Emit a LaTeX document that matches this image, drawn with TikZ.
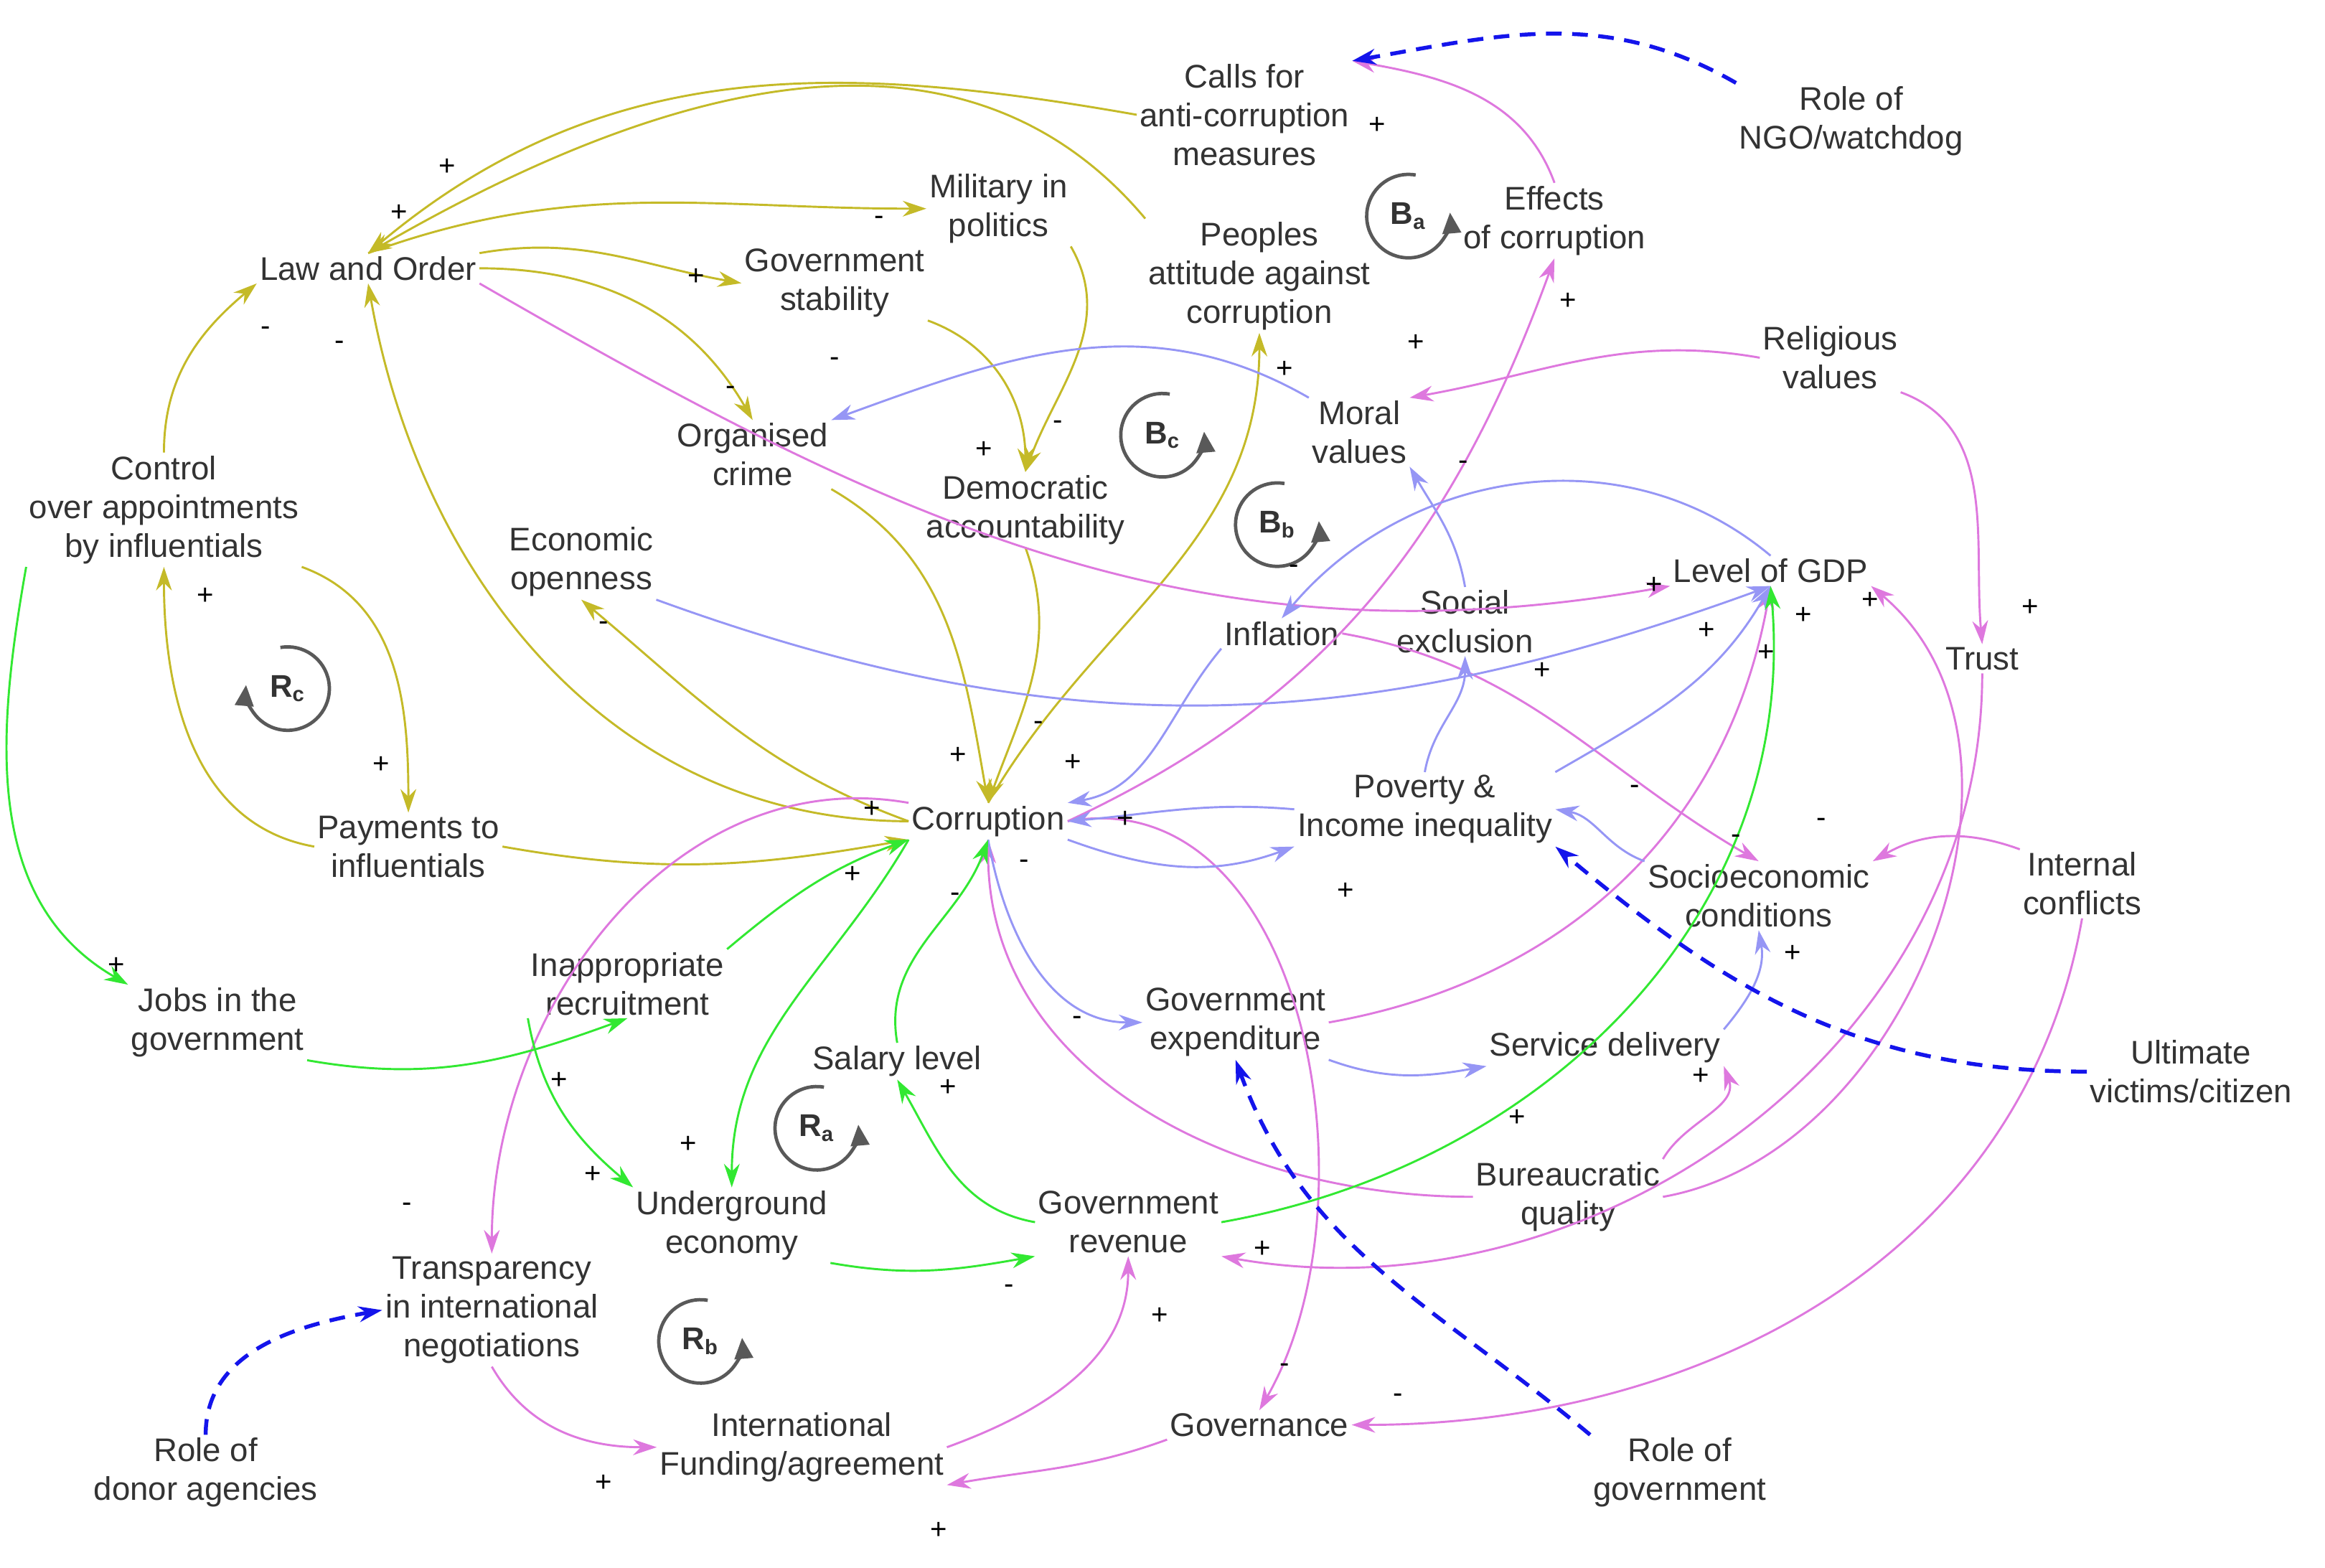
\documentclass[tikz,border=0pt]{standalone}
\usepackage{fontspec}
\setmainfont{Liberation Sans}
\usetikzlibrary{arrows.meta}
\definecolor{olv}{RGB}{196,186,40}
\definecolor{pnk}{RGB}{222,120,222}
\definecolor{lbl}{RGB}{150,150,245}
\definecolor{grn}{RGB}{50,232,50}
\definecolor{dbl}{RGB}{20,20,235}
\tikzset{
  var/.style={align=center,inner sep=1pt,font=\fontsize{12.5}{14.8}\selectfont,text=black!80},
  sgn/.style={inner sep=0pt,font=\fontsize{11}{12}\selectfont},
  lnk/.style={-{Stealth[length=9pt,width=6pt]},line width=0.8pt},
  ye/.style={lnk,olv},
  pk/.style={lnk,pnk},
  bl/.style={lnk,lbl},
  gr/.style={lnk,grn},
  db/.style={lnk,dbl,dashed,line width=1.5pt,dash pattern=on 6pt off 4pt},
  loopc/.style={black!65,line width=1.3pt,-{Triangle[length=8pt,width=7pt]}}
}
\newcommand{\loopmark}[3]{% name, position, label
  \node[var,font=\fontsize{12}{12}\selectfont\bfseries] (#1) at (#2) {#3};
  \draw[loopc] (#1.center) ++(-80:28) arc (-80:-365:28);
}
\newcommand{\loopmarkl}[3]{%
  \node[var,font=\fontsize{12}{12}\selectfont\bfseries] (#1) at (#2) {#3};
  \draw[loopc] (#1.center) ++(-100:28) arc (-100:185:28);
}
\begin{document}
\begin{tikzpicture}[x=0.02cm,y=-0.02cm]
\useasboundingbox (0,0) rectangle (1560,1052);
% variables
\node[var] (calls) at (835,77) {Calls for\\anti-corruption\\measures};
\node[var] (ngo) at (1242,81) {Role of\\NGO/watchdog};
\node[var] (effects) at (1043,148) {Effects\\of corruption};
\node[var] (military) at (670,140) {Military in\\politics};
\node[var] (peoples) at (845,185) {Peoples\\attitude against\\corruption};
\node[var] (law) at (247,180) {Law and Order};
\node[var] (govstab) at (560,190) {Government\\stability};
\node[var] (religious) at (1228,240) {Religious\\values};
\node[var] (moral) at (912,290) {Moral\\values};
\node[var] (orgcrime) at (505,305) {Organised\\crime};
\node[var] (democ) at (688,342) {Democratic\\accountability};
\node[var] (control) at (110,342) {Control\\over appointments\\by influentials};
\node[var] (econ) at (390,377) {Economic\\openness};
\node[var] (gdp) at (1188,383) {Level of GDP};
\node[var] (social) at (983,417) {Social\\exclusion};
\node[var] (inflation) at (860,425) {Inflation};
\node[var] (trust) at (1330,442) {Trust};
\node[var] (payments) at (274,568) {Payments to\\influentials};
\node[var] (corruption) at (663,551) {Corruption};
\node[var] (poverty) at (956,543) {Poverty \&\\Income inequality};
\node[var] (socio) at (1180,601) {Socioeconomic\\conditions};
\node[var] (internal) at (1397,593) {Internal\\conflicts};
\node[var] (jobs) at (146,686) {Jobs in the\\government};
\node[var] (inapp) at (421,660) {Inappropriate\\recruitment};
\node[var] (govexp) at (829,686) {Government\\expenditure};
\node[var] (salary) at (602,712) {Salary level};
\node[var] (service) at (1077,703) {Service delivery};
\node[var] (ultimate) at (1470,719) {Ultimate\\victims/citizen};
\node[var] (bureau) at (1052,803) {Bureaucratic\\quality};
\node[var] (underground) at (491,822) {Underground\\economy};
\node[var] (govrev) at (757,820) {Government\\revenue};
\node[var] (transp) at (330,879) {Transparency\\in international\\negotiations};
\node[var] (intl) at (538,971) {International\\Funding/agreement};
\node[var] (governance) at (845,956) {Governance};
\node[var] (donor) at (138,988) {Role of\\donor agencies};
\node[var] (rolegov) at (1127,988) {Role of\\government};
% loops
\loopmark{ba}{945,145}{B\textsubscript{a}}
\loopmark{bc}{780,292}{B\textsubscript{c}}
\loopmark{bb}{857,352}{B\textsubscript{b}}
\loopmarkl{rc}{193,462}{R\textsubscript{c}}
\loopmark{ra}{548,757}{R\textsubscript{a}}
\loopmark{rb}{470,900}{R\textsubscript{b}}
% olive links
\draw[ye] (calls.west) to[out=170,in=40] (law.north);
\draw[ye] (peoples.north west) to[out=130,in=30] (law.north);
\draw[ye] (law.north) to[out=20,in=180] (military.west);
\draw[ye] (law.north east) to[out=10,in=170] (govstab.west);
\draw[ye] (law.east) to[out=0,in=120] (orgcrime.north);
\draw[ye] (govstab.south east) to[out=-20,in=90] (democ.north);
\draw[ye] (military.south east) to[out=-60,in=70] (democ.north);
\draw[ye] (orgcrime.south east) to[out=-30,in=100] (corruption.north);
\draw[ye] (democ.south) to[out=-70,in=70] (corruption.north);
\draw[ye] (corruption.north) to[out=60,in=-90] (peoples.south);
\draw[ye] (corruption.west) to[out=160,in=-40] (econ.south);
\draw[ye] (corruption.west) to[out=180,in=-80] (law.south);
\draw[ye] (control.north) to[out=90,in=220] (law.south west);
\draw[ye] (control.south east) to[out=-20,in=90] (payments.north);
\draw[ye] (payments.west) to[out=170,in=-90] (control.south);
\draw[ye] (payments.east) to[out=-10,in=190] (corruption.south west);
% pink links
\draw[pk] (effects.north) to[out=110,in=-10] (calls.north east);
\draw[pk] (corruption.east) to[out=25,in=-110] (effects.south);
\draw[pk] (religious.west) to[out=170,in=10] (moral.north east);
\draw[pk] (religious.south east) to[out=-20,in=95] (trust.north);
\draw[pk] (law.south east) to[out=-30,in=190] (gdp.south west);
\draw[pk] (trust.south) to[out=-90,in=-10] (govrev.south east);
\draw[pk] (internal.south) to[out=-100,in=0] (governance.east);
\draw[pk] (bureau.east) to[out=10,in=-40] (gdp.south east);
\draw[pk] (inflation.east) to[out=-10,in=150] (socio.north);
\draw[pk] (internal.north west) to[out=160,in=30] (socio.north east);
\draw[pk] (govexp.east) to[out=10,in=-100] (gdp.south);
\draw[pk] (corruption.north west) to[out=170,in=90] (transp.north);
\draw[pk] (transp.south) to[out=-60,in=180] (intl.west);
\draw[pk] (intl.east) to[out=20,in=-90] (govrev.south);
\draw[pk] (governance.south west) to[out=-160,in=10] (intl.south east);
\draw[pk] (corruption.east) to[out=10,in=60] (governance.north);
\draw[pk] (bureau.west) to[out=180,in=-90] (corruption.south);
\draw[pk] (bureau.north east) to[out=60,in=-70] (service.south east);
% light blue links
\draw[bl] (moral.north west) to[out=150,in=20] (orgcrime.north east);
\draw[bl] (social.north) to[out=100,in=-60] (moral.south east);
\draw[bl] (gdp.north) to[out=140,in=50] (inflation.north);
\draw[bl] (econ.south east) to[out=-20,in=200] (gdp.south);
\draw[bl] (inflation.south west) to[out=-130,in=10] (corruption.north east);
\draw[bl] (poverty.west) to[out=175,in=5] (corruption.east);
\draw[bl] (corruption.south east) to[out=-20,in=200] (poverty.south west);
\draw[bl] (poverty.north) to[out=80,in=-90] (social.south);
\draw[bl] (socio.north west) to[out=160,in=-10] (poverty.east);
\draw[bl] (poverty.north east) to[out=30,in=-120] (gdp.south);
\draw[bl] (corruption.south) to[out=-80,in=180] (govexp.west);
\draw[bl] (govexp.south east) to[out=-20,in=190] (service.south west);
\draw[bl] (service.north east) to[out=50,in=-80] (socio.south);
% green links
\draw[gr] (control.south west) to[out=-100,in=150] (jobs.north west);
\draw[gr] (jobs.south east) to[out=-10,in=200] (inapp.south);
\draw[gr] (inapp.north east) to[out=40,in=200] (corruption.south west);
\draw[gr] (inapp.south west) to[out=-80,in=140] (underground.north west);
\draw[gr] (corruption.south west) to[out=-120,in=90] (underground.north);
\draw[gr] (salary.north) to[out=100,in=-110] (corruption.south);
\draw[gr] (govrev.west) to[out=170,in=-60] (salary.south);
\draw[gr] (underground.south east) to[out=-10,in=190] (govrev.south west);
\draw[gr] (govrev.east) to[out=10,in=-85] (gdp.south);
% dashed external links
\draw[db] (ngo.north west) to[out=150,in=10] (calls.north east);
\draw[db] (ultimate.west) to[out=180,in=-40] (poverty.south east);
\draw[db] (donor.north) to[out=90,in=190] (transp.west);
\draw[db] (rolegov.north west) to[out=140,in=-70] (govexp.south);
% signs
\node[sgn] (s1) at (300,112) {+};
\node[sgn] (s2) at (268,143) {+};
\node[sgn] (s3) at (590,148) {-};
\node[sgn] (s4) at (467,186) {+};
\node[sgn] (s5) at (490,262) {-};
\node[sgn] (s6) at (560,243) {-};
\node[sgn] (s7) at (660,302) {+};
\node[sgn] (s8) at (710,285) {-};
\node[sgn] (s9) at (643,507) {+};
\node[sgn] (s10) at (697,487) {-};
\node[sgn] (s11) at (720,512) {+};
\node[sgn] (s12) at (862,248) {+};
\node[sgn] (s13) at (405,420) {-};
\node[sgn] (s14) at (228,232) {-};
\node[sgn] (s15) at (178,222) {-};
\node[sgn] (s16) at (256,513) {+};
\node[sgn] (s17) at (138,400) {+};
\node[sgn] (s18) at (585,543) {+};
\node[sgn] (s19) at (924,84) {+};
\node[sgn] (s20) at (1052,202) {+};
\node[sgn] (s21) at (950,230) {+};
\node[sgn] (s22) at (1362,408) {+};
\node[sgn] (s23) at (1110,393) {+};
\node[sgn] (s24) at (847,838) {+};
\node[sgn] (s25) at (938,938) {-};
\node[sgn] (s26) at (1255,403) {+};
\node[sgn] (s27) at (1165,563) {-};
\node[sgn] (s28) at (1222,552) {-};
\node[sgn] (s29) at (1185,438) {+};
\node[sgn] (s30) at (273,810) {-};
\node[sgn] (s31) at (405,995) {+};
\node[sgn] (s32) at (778,883) {+};
\node[sgn] (s33) at (630,1027) {+};
\node[sgn] (s34) at (862,918) {-};
\node[sgn] (s35) at (755,550) {+};
\node[sgn] (s36) at (723,685) {-};
\node[sgn] (s37) at (1141,722) {+};
\node[sgn] (s38) at (982,312) {-};
\node[sgn] (s39) at (868,382) {-};
\node[sgn] (s40) at (1145,423) {+};
\node[sgn] (s41) at (1210,413) {+};
\node[sgn] (s42) at (687,580) {-};
\node[sgn] (s43) at (903,598) {+};
\node[sgn] (s44) at (1035,450) {+};
\node[sgn] (s45) at (1097,530) {-};
\node[sgn] (s46) at (1018,750) {+};
\node[sgn] (s47) at (1203,640) {+};
\node[sgn] (s48) at (78,648) {+};
\node[sgn] (s49) at (375,725) {+};
\node[sgn] (s50) at (572,587) {+};
\node[sgn] (s51) at (398,788) {+};
\node[sgn] (s52) at (462,768) {+};
\node[sgn] (s53) at (636,730) {+};
\node[sgn] (s54) at (677,865) {-};
\node[sgn] (s55) at (641,602) {-};
\end{tikzpicture}
\end{document}
